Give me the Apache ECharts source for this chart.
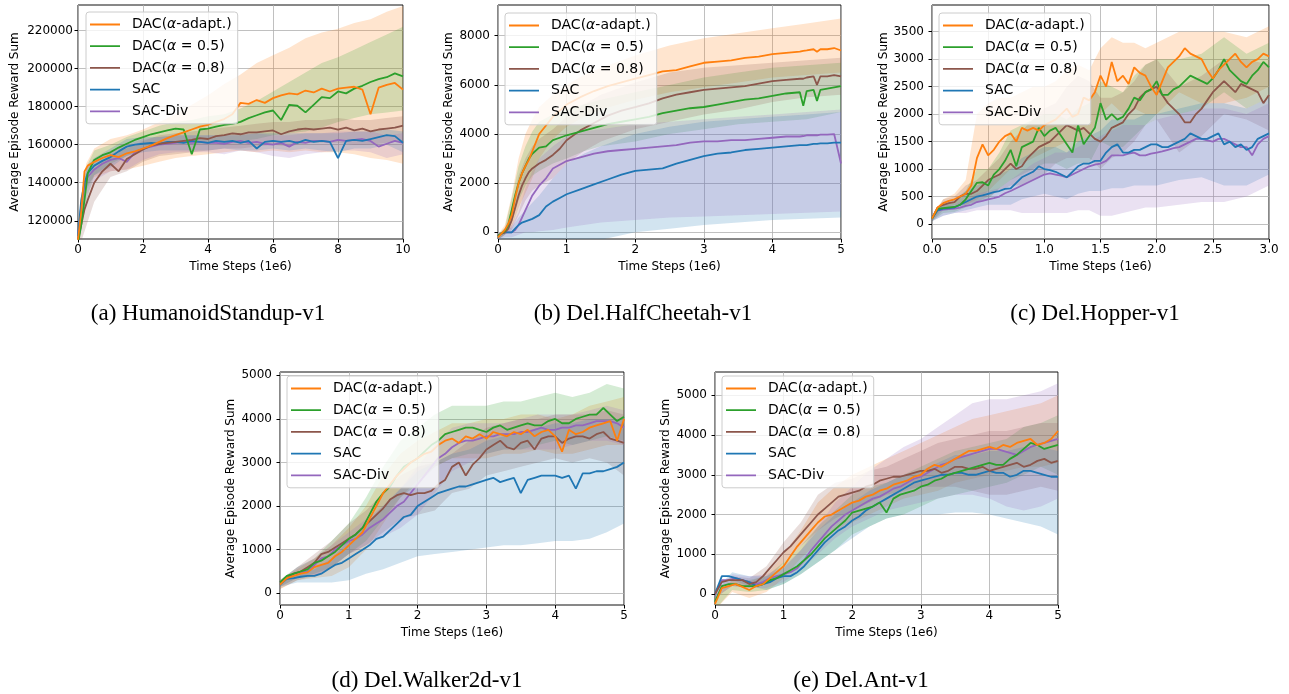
<!DOCTYPE html>
<html><head><meta charset="utf-8">
<script src="https://cdn.jsdelivr.net/npm/echarts@6/dist/echarts.min.js"></script>
<style>html,body{margin:0;padding:0;background:#fff;}#c{width:1289px;height:694px;}</style>
</head><body><div id="c"></div>
<script>
// ---------- names / colours ----------
const NAMES = ['DAC(α-adapt.)', 'DAC(α = 0.5)', 'DAC(α = 0.8)', 'SAC', 'SAC-Div'];
const COLORS = ['#ff7f0e', '#2ca02c', '#8c564b', '#1f77b4', '#9467bd'];
const CAPTIONS = ['(a) HumanoidStandup-v1', '(b) Del.HalfCheetah-v1', '(c) Del.Hopper-v1', '(d) Del.Walker2d-v1', '(e) Del.Ant-v1'];

// ---------- (a) HumanoidStandup ----------
const A_X = [0,0.1,0.2,0.3,0.5,0.75,1,1.25,1.5,1.75,2,2.25,2.5,2.75,3,3.25,3.5,3.75,4,4.25,4.5,4.75,5,5.25,5.5,5.75,6,6.25,6.5,6.75,7,7.25,7.5,7.75,8,8.25,8.5,8.75,9,9.25,9.5,9.75,10];
const A_ADAPT = [110000,125000,146000,149000,151000,153000,154500,153500,155500,156500,158000,159500,161500,163500,165000,166500,168000,169500,170500,172000,173500,176000,182000,181500,183500,182000,184500,186000,187000,186500,188500,187500,189500,188000,189500,190000,190500,189000,176000,190000,191500,192500,189000];
const A_A05 = [108000,118000,131000,145000,152000,154500,156000,158500,160500,162500,164000,165500,166500,167500,168500,168000,155000,168000,168500,169500,170500,171000,172000,174000,175500,177000,178000,173000,181000,180500,177000,181000,185000,184500,188000,187000,189500,191000,193000,194500,195500,197500,196000];
const A_A08 = [110000,118000,126000,131000,140000,146000,150000,146000,152500,155000,157500,159500,160500,161000,161500,162000,162500,163500,163000,164500,165000,166000,165500,166500,166500,167000,167500,165500,167000,168000,168500,168000,168500,169000,168000,169000,167500,168500,167000,168000,168500,169000,170000];
const A_SAC = [112000,131000,140000,145000,149000,151500,153500,156500,159000,160000,160500,161000,160500,161500,161500,161000,162000,161500,161000,162000,161500,162000,161000,162000,158000,161500,162000,161500,162000,161000,162500,161500,162000,161500,153000,162000,162500,162000,163000,164000,165000,164500,161000];
const A_DIV = [112000,128000,138000,143000,147000,150000,152000,153000,151000,156000,158000,159000,160000,160500,161000,161500,161000,161500,161000,161000,160500,161500,162000,161000,161500,160500,160000,161000,159000,161500,161000,162000,162000,161500,162500,162000,162500,163000,162000,159000,160500,162000,161000];
const AB_X = [0,0.25,0.5,1,1.5,2,2.5,3,3.5,4,4.5,5,5.5,6,6.5,7,7.5,8,8.5,9,9.5,10];
const A_ADAPT_HI = [112000,150000,158000,163000,165000,168000,172000,176000,181000,186000,192000,197000,203000,207000,211000,216000,219000,221000,224000,226000,230000,233000];
const A_ADAPT_LO = [106000,138000,143000,146000,147000,149000,151000,153000,154000,155000,156000,157000,156000,157000,156000,157000,156000,156000,155000,153000,152000,150000];
const A_A05_HI = [112000,148000,157000,160000,164000,167000,170000,172000,173000,175000,176000,179000,183000,188000,193000,198000,203000,206000,210000,214000,218000,222000];
const A_A05_LO = [104000,130000,144000,150000,154000,158000,160000,161000,160000,161000,161000,162000,163000,165000,166000,167000,169000,172000,174000,176000,177000,178000];
const A_A08_HI = [113000,140000,147000,155000,158000,162000,165000,166000,167000,168000,169000,170000,171000,172000,172000,173000,173000,174000,173000,173000,174000,175000];
const A_A08_LO = [104000,117000,130000,143000,146000,151000,154000,155000,156000,157000,158000,158000,159000,160000,159000,161000,161000,161000,160000,160000,161000,162000];
const A_SAC_HI = [115000,148000,153000,158000,163000,164000,164000,165000,165000,165000,165000,165000,166000,166000,166000,166000,166000,166000,167000,167000,168000,167000];
const A_SAC_LO = [108000,136000,144000,148000,154000,156000,157000,157000,157000,157000,158000,157000,157000,158000,157000,158000,157000,156000,158000,158000,160000,156000];
const A_DIV_HI = [114000,147000,152000,157000,160000,163000,164000,165000,165000,165000,165000,166000,166000,165000,165000,166000,166000,167000,167000,167000,165000,166000];
const A_DIV_LO = [108000,133000,141000,146000,147000,152000,155000,156000,156000,156000,155000,157000,156000,154000,153000,155000,156000,157000,157000,156000,153000,155000];
const A_XTICKS = [0,2,4,6,8,10];
const A_YTICKS = [120000,140000,160000,180000,200000,220000];

// ---------- (b) HalfCheetah ----------
const B_X = [0,0.05,0.1,0.15,0.2,0.25,0.3,0.35,0.4,0.45,0.5,0.6,0.7,0.8,0.9,1,1.2,1.4,1.6,1.8,2,2.2,2.4,2.6,2.8,3,3.2,3.4,3.6,3.8,4,4.2,4.4,4.45,4.5,4.6,4.65,4.7,4.8,4.9,5];
const B_ADAPT = [-200,-50,100,350,700,1400,2000,2400,2700,2950,3300,4000,4350,4700,4950,5200,5500,5750,5950,6100,6250,6400,6550,6600,6750,6900,6950,7000,7100,7150,7250,7300,7350,7380,7400,7450,7350,7450,7450,7500,7400];
const B_A05 = [-150,-50,50,300,900,1500,2000,2400,2700,3000,3200,3450,3500,3750,3850,3950,4100,4250,4400,4500,4600,4700,4850,4950,5050,5100,5200,5300,5400,5450,5550,5650,5700,5150,5750,5800,5350,5800,5850,5900,5950];
const B_A08 = [-150,-50,0,150,500,1000,1500,1900,2200,2450,2600,2800,2950,3150,3400,3750,4150,4450,4750,4950,5100,5250,5450,5600,5700,5800,5850,5900,5950,6050,6150,6200,6250,6250,6300,6350,6000,6350,6350,6400,6350];
const B_SAC = [-150,-50,0,0,0,150,300,400,450,500,550,700,1050,1250,1400,1550,1750,1950,2150,2350,2500,2550,2600,2800,2950,3100,3200,3250,3350,3400,3450,3500,3550,3550,3550,3600,3600,3620,3620,3650,3650];
const B_DIV = [-150,-50,0,0,0,100,300,600,900,1200,1500,1900,2200,2600,2750,2900,3050,3200,3300,3350,3400,3450,3500,3550,3650,3700,3700,3750,3750,3800,3850,3900,3900,3920,3950,3950,3950,3980,3980,4000,2800];
const BB_X = [0,0.1,0.2,0.3,0.4,0.5,0.6,0.8,1,1.25,1.5,2,2.5,3,3.5,4,4.5,5];
const B_ADAPT_HI = [-100,300,1500,3000,4000,4600,5100,5600,6000,6400,6700,7200,7600,7900,8100,8300,8500,8700];
const B_ADAPT_LO = [-300,-100,200,1000,1600,2200,3000,3800,4300,4700,5000,5400,5700,5900,6100,6300,6400,6500];
const B_A05_HI = [-100,200,1400,2700,3500,4100,4500,4800,5000,5200,5400,5700,6000,6300,6500,6700,6800,6900];
const B_A05_LO = [-300,-100,400,1300,1900,2300,2500,2800,3000,3300,3500,3700,4000,4200,4400,4500,4600,4900];
const B_A08_HI = [-100,100,1000,2300,3000,3500,3800,4200,4700,5200,5600,6100,6500,6700,6800,6900,7000,7100];
const B_A08_LO = [-300,-100,100,700,1300,1700,1900,2200,2800,3300,3700,4200,4500,4800,5000,5300,5500,5600];
const B_SAC_HI = [-100,100,200,600,900,1200,1500,2200,2800,3200,3500,4000,4300,4500,4600,4700,4800,4900];
const B_SAC_LO = [-300,-300,-400,-600,-800,-900,-1000,-900,-800,-600,-300,0,150,300,400,500,550,600];
const B_DIV_HI = [-100,100,300,800,1800,2500,3000,3500,3900,4100,4200,4400,4500,4600,4700,4800,4900,5000];
const B_DIV_LO = [-300,-200,-200,-100,0,0,50,100,200,300,400,500,600,650,700,750,800,850];
const B_XTICKS = [0,1,2,3,4,5];
const B_YTICKS = [0,2000,4000,6000,8000];

// ---------- (c) Hopper ----------
const C_X = [0,0.05,0.1,0.15,0.2,0.25,0.3,0.35,0.4,0.45,0.5,0.55,0.6,0.65,0.7,0.75,0.8,0.85,0.9,0.95,1,1.05,1.1,1.15,1.2,1.25,1.3,1.35,1.4,1.45,1.5,1.55,1.6,1.65,1.7,1.75,1.8,1.85,1.9,1.95,2,2.05,2.1,2.15,2.2,2.25,2.3,2.35,2.4,2.45,2.5,2.55,2.6,2.65,2.7,2.75,2.8,2.85,2.9,2.95,3];
const C_ADAPT = [100,300,380,420,450,500,550,700,1200,1450,1250,1350,1500,1600,1650,1500,1750,1700,1750,1700,1800,1850,1900,2000,2100,1950,2000,2300,2250,2400,2700,2500,2950,2600,2700,2550,2850,2750,2700,2500,2350,2600,2850,2950,3050,3200,3100,3050,3000,2800,2650,2800,2900,3000,3100,2950,2850,2950,3000,3100,3050];
const C_A05 = [100,280,290,300,310,350,450,600,750,760,700,900,1000,1150,1350,1050,1400,1450,1500,1750,1600,1700,1750,1600,1450,1300,1800,1450,1600,1750,2200,1900,2000,1900,1950,2100,2300,2250,2400,2450,2600,2350,2350,2450,2500,2600,2700,2650,2600,2550,2650,2800,3000,2800,2700,2600,2550,2700,2800,2950,2850];
const C_A08 = [100,300,350,380,400,500,550,550,600,700,800,850,900,1000,1100,1000,1050,1200,1300,1400,1450,1500,1600,1700,1800,1750,1700,1750,1650,1550,1500,1600,1750,1800,1850,2000,2100,2300,2400,2450,2500,2350,2200,2100,2000,1850,1850,2000,2100,2250,2400,2500,2600,2500,2400,2550,2500,2450,2400,2200,2350];
const C_SAC = [100,250,280,290,300,350,400,450,500,520,550,580,600,640,650,750,850,900,950,1050,1000,980,950,900,850,950,1050,1100,1100,1150,1150,1300,1400,1450,1300,1300,1350,1350,1400,1450,1450,1400,1400,1450,1500,1550,1650,1600,1550,1550,1600,1650,1450,1500,1400,1450,1350,1400,1550,1600,1650];
const C_DIV = [100,250,260,270,280,300,330,350,400,420,450,470,500,560,600,650,700,750,800,850,900,920,900,880,850,900,950,1000,1050,1080,1100,1150,1250,1250,1250,1280,1300,1250,1250,1280,1300,1320,1350,1380,1400,1450,1500,1550,1550,1520,1500,1550,1550,1500,1450,1400,1400,1250,1450,1550,1600];
const CB_X = [0,0.1,0.2,0.3,0.4,0.5,0.6,0.7,0.8,0.9,1,1.1,1.2,1.3,1.4,1.5,1.6,1.7,1.8,1.9,2,2.2,2.4,2.6,2.8,3];
const C_ADAPT_HI = [150,450,550,800,2000,2200,2300,2300,2400,2500,2500,2600,2800,2900,2800,3200,3400,3300,3300,3200,3300,3500,3500,3500,3400,3600];
const C_ADAPT_LO = [50,300,350,350,450,600,800,1000,1100,1200,1300,1400,1500,1500,1600,2000,2200,2000,2100,2000,2000,2400,2200,2200,2300,2500];
const C_A05_HI = [150,350,400,600,1000,1000,1300,1700,1800,1900,2000,2000,1900,2100,2200,2600,2500,2400,2700,2900,3000,3000,3100,3400,3100,3300];
const C_A05_LO = [50,200,220,300,400,450,650,800,900,1000,1100,1100,1000,1100,1100,1500,1400,1400,1600,1800,2000,2000,2100,2400,2100,2300];
const C_A08_HI = [150,450,500,700,800,1000,1200,1500,1700,1900,2100,2200,2500,2700,2600,2300,2300,2400,2600,2900,3000,2500,2700,3000,3000,2900];
const C_A08_LO = [50,250,300,350,400,500,600,700,700,800,900,1100,1200,1200,1200,1000,1200,1300,1500,1800,1900,1300,1600,2000,1900,1700];
const C_SAC_HI = [150,400,450,600,700,800,900,1000,1200,1300,1400,1400,1300,1500,1600,1700,1900,1900,1900,2000,2000,2100,2200,2200,2100,2300];
const C_SAC_LO = [50,150,200,250,300,350,350,350,450,500,550,500,450,550,600,600,650,650,700,700,700,800,850,700,700,900];
const C_DIV_HI = [150,350,350,450,550,600,650,800,950,1100,1200,1300,1300,1400,1500,1600,1700,1800,1800,1800,1900,2000,2100,2100,2000,2200];
const C_DIV_LO = [50,150,200,200,250,250,250,250,200,200,200,200,200,250,250,150,150,200,250,300,300,350,400,400,500,700];
const C_XTICKS = [0,0.5,1,1.5,2,2.5,3];
const C_YTICKS = [0,500,1000,1500,2000,2500,3000,3500];

// ---------- (d) Walker2d ----------
const D_X = [0,0.1,0.2,0.3,0.4,0.5,0.6,0.7,0.8,0.9,1,1.1,1.2,1.3,1.4,1.5,1.6,1.7,1.8,1.9,2,2.1,2.2,2.3,2.4,2.5,2.6,2.7,2.8,2.9,3,3.1,3.2,3.3,3.4,3.5,3.6,3.7,3.8,3.9,4,4.1,4.2,4.3,4.4,4.5,4.6,4.7,4.8,4.9,5];
const D_ADAPT = [200,350,400,450,480,600,650,700,850,950,1100,1250,1400,1700,2000,2300,2500,2700,2850,3000,3100,3200,3250,3400,3500,3550,3450,3600,3550,3650,3550,3700,3650,3600,3700,3650,3750,3600,3700,3750,3600,3250,3750,3650,3700,3800,3850,3900,3950,3500,4000];
const D_A05 = [250,400,450,500,550,700,750,850,950,1100,1250,1350,1500,1800,2100,2300,2450,2700,2900,3000,3100,3250,3400,3500,3650,3700,3750,3800,3800,3750,3700,3800,3850,3750,3800,3850,3900,3850,3850,3950,4000,3900,3900,4000,4050,4100,4100,4250,4100,3950,4050];
const D_A08 = [250,350,450,500,600,700,900,950,1050,1150,1250,1350,1500,1650,1800,1950,2150,2250,2300,2250,2300,2300,2350,2500,2600,2900,3000,2700,2950,3100,3300,3400,3500,3350,3300,3450,3500,3300,3550,3600,3600,3450,3550,3600,3600,3550,3650,3700,3550,3500,3450];
const D_SAC = [200,330,350,380,400,400,450,550,650,700,800,900,1000,1100,1250,1300,1450,1600,1750,1800,2000,2100,2200,2300,2350,2400,2450,2450,2500,2550,2600,2650,2550,2600,2650,2300,2600,2650,2700,2700,2700,2650,2700,2400,2750,2750,2800,2800,2850,2900,3000];
const D_DIV = [250,350,450,480,500,650,800,850,1000,1100,1200,1250,1350,1500,1600,1700,1850,2000,2100,2300,2500,2700,2900,3100,3200,3350,3450,3500,3500,3550,3600,3600,3650,3650,3650,3700,3700,3750,3800,3750,3750,3800,3800,3850,3850,3900,3950,3950,3950,3900,3800];
const DB_X = [0,0.25,0.5,0.75,1,1.25,1.5,1.75,2,2.25,2.5,2.75,3,3.25,3.5,3.75,4,4.25,4.5,4.75,5];
const D_ADAPT_HI = [300,550,800,1100,1500,2000,2700,3200,3500,3700,3900,3900,4000,4000,4100,4100,4000,4100,4300,4400,4500];
const D_ADAPT_LO = [100,300,350,400,600,1000,1600,2200,2600,2900,3100,3100,3100,3200,3200,3300,3200,3200,3300,3400,3400];
const D_A05_HI = [300,600,800,1200,1600,2200,2900,3500,3800,4100,4300,4300,4300,4400,4400,4500,4600,4500,4600,4800,4700];
const D_A05_LO = [150,350,450,600,900,1200,1700,2200,2500,2900,3100,3200,3200,3300,3300,3400,3500,3400,3500,3600,3500];
const D_A08_HI = [300,600,900,1200,1600,1900,2300,2700,2900,3000,3200,3500,3800,3900,4000,4000,4100,4100,4100,4200,4100];
const D_A08_LO = [100,300,400,600,900,1100,1400,1700,1800,1900,2300,2400,2700,2800,2900,3000,3100,3000,3100,3000,2700];
const D_SAC_HI = [250,450,550,800,1200,1600,2000,2400,2800,3000,3200,3300,3500,3600,3700,3800,3900,3900,4000,4000,4000];
const D_SAC_LO = [150,250,250,250,300,450,550,700,850,900,950,1000,1050,1100,1100,1150,1200,1200,1250,1400,1600];
const D_DIV_HI = [300,600,800,1100,1400,1700,2000,2400,2900,3400,3800,3900,3900,3900,4000,4100,4100,4100,4200,4300,4200];
const D_DIV_LO = [150,350,400,600,900,1100,1300,1500,1800,2300,2800,3000,3200,3300,3300,3300,3300,3400,3500,3500,3400];
const D_XTICKS = [0,1,2,3,4,5];
const D_YTICKS = [0,1000,2000,3000,4000,5000];

// ---------- (e) Ant ----------
const E_X = [0,0.1,0.2,0.3,0.4,0.5,0.6,0.7,0.8,0.9,1,1.1,1.2,1.3,1.4,1.5,1.6,1.7,1.8,1.9,2,2.1,2.2,2.3,2.4,2.5,2.6,2.7,2.8,2.9,3,3.1,3.2,3.3,3.4,3.5,3.6,3.7,3.8,3.9,4,4.1,4.2,4.3,4.4,4.5,4.6,4.7,4.8,4.9,5];
const E_ADAPT = [-250,150,200,250,180,100,200,250,400,550,700,950,1200,1400,1600,1800,1950,2000,2100,2200,2300,2350,2450,2500,2600,2650,2750,2800,2850,2950,3000,3150,3250,3200,3300,3400,3500,3600,3600,3650,3700,3650,3750,3700,3800,3850,3900,3750,3800,3900,4100];
const E_A05 = [-200,200,250,250,200,200,200,250,350,400,500,600,700,850,1000,1200,1400,1550,1700,1850,2050,2100,2150,2200,2300,2050,2400,2500,2550,2600,2700,2750,2850,2900,3000,3050,3100,3150,3200,3250,3300,3250,3250,3400,3500,3650,3800,3750,3650,3700,3750];
const E_A08 = [0,300,350,350,350,250,300,450,650,850,1050,1200,1400,1600,1800,2000,2150,2300,2450,2500,2550,2600,2700,2750,2850,2900,2950,2950,3000,3050,3100,3100,3150,3050,3100,3200,3200,3150,3150,3200,3100,3150,3200,3250,3300,3200,3250,3350,3400,3300,3350];
const E_SAC = [0,450,450,400,350,300,200,250,300,400,450,450,550,700,900,1100,1300,1450,1600,1700,1850,1950,2100,2200,2300,2400,2500,2600,2700,2800,2850,2900,2950,3000,3000,3050,3050,3000,3000,3050,3100,3050,3050,2950,3000,3100,3100,3050,3000,2950,2950];
const E_DIV = [0,350,350,400,350,300,250,300,400,450,500,550,650,850,1100,1300,1500,1700,1850,2000,2100,2200,2300,2400,2450,2550,2650,2700,2800,2900,2950,3050,3150,3250,3300,3400,3450,3500,3550,3600,3650,3650,3600,3550,3500,3600,3700,3750,3800,3850,3900];
const EB_X = [0,0.25,0.5,0.75,1,1.25,1.5,1.75,2,2.25,2.5,2.75,3,3.25,3.5,3.75,4,4.25,4.5,4.75,5];
const E_ADAPT_HI = [-100,350,300,500,1000,1600,2300,2700,3000,3200,3400,3600,3800,4000,4200,4400,4500,4600,4700,4800,5000];
const E_ADAPT_LO = [-400,50,-100,50,400,900,1300,1600,1800,2000,2200,2400,2500,2600,2800,2900,3000,3100,3200,3200,3300];
const E_A05_HI = [-100,350,350,450,800,1200,1700,2100,2500,2700,2800,3000,3200,3400,3600,3700,3800,3900,4200,4300,4500];
const E_A05_LO = [-400,100,50,100,250,500,800,1100,1500,1700,1900,2000,2200,2400,2500,2600,2700,2800,3000,3200,3000];
const E_A08_HI = [100,450,400,700,1300,1800,2500,2800,2900,3100,3200,3400,3600,3800,3900,4000,4100,4100,4200,4300,4300];
const E_A08_LO = [-100,200,150,300,800,1200,1600,1900,2100,2300,2500,2600,2700,2700,2700,2600,2500,2500,2600,2700,2600];
const E_SAC_HI = [100,550,450,450,650,1100,1600,2000,2300,2600,2800,3000,3100,3300,3500,3500,3600,3600,3700,3700,3600];
const E_SAC_LO = [-100,350,200,100,250,500,800,1100,1400,1700,1900,2000,2000,2000,2050,2050,2000,1900,1800,1700,1500];
const E_DIV_HI = [100,500,450,500,700,1100,1700,2300,2700,3100,3400,3700,3900,4200,4500,4800,4900,4900,5000,5100,5300];
const E_DIV_LO = [-100,200,150,150,300,600,1000,1400,1700,1900,2100,2200,2300,2400,2500,2500,2400,2200,2100,2200,2400];
const E_XTICKS = [0,1,2,3,4,5];
const E_YTICKS = [0,1000,2000,3000,4000,5000];

// ---------- panels (data) ----------
const PANELS = [
  {x:A_X, ys:[A_ADAPT,A_A05,A_A08,A_SAC,A_DIV], bx:AB_X,
   bands:[[A_ADAPT_LO,A_ADAPT_HI],[A_A05_LO,A_A05_HI],[A_A08_LO,A_A08_HI],[A_SAC_LO,A_SAC_HI],[A_DIV_LO,A_DIV_HI]],
   xTicks:A_XTICKS, yTicks:A_YTICKS, yMin:110400, yMax:233500, xFmt:0},
  {x:B_X, ys:[B_ADAPT,B_A05,B_A08,B_SAC,B_DIV], bx:BB_X,
   bands:[[B_ADAPT_LO,B_ADAPT_HI],[B_A05_LO,B_A05_HI],[B_A08_LO,B_A08_HI],[B_SAC_LO,B_SAC_HI],[B_DIV_LO,B_DIV_HI]],
   xTicks:B_XTICKS, yTicks:B_YTICKS, yMin:-270, yMax:9250, xFmt:0},
  {x:C_X, ys:[C_ADAPT,C_A05,C_A08,C_SAC,C_DIV], bx:CB_X,
   bands:[[C_ADAPT_LO,C_ADAPT_HI],[C_A05_LO,C_A05_HI],[C_A08_LO,C_A08_HI],[C_SAC_LO,C_SAC_HI],[C_DIV_LO,C_DIV_HI]],
   xTicks:C_XTICKS, yTicks:C_YTICKS, yMin:-273, yMax:3986, xFmt:1},
  {x:D_X, ys:[D_ADAPT,D_A05,D_A08,D_SAC,D_DIV], bx:DB_X,
   bands:[[D_ADAPT_LO,D_ADAPT_HI],[D_A05_LO,D_A05_HI],[D_A08_LO,D_A08_HI],[D_SAC_LO,D_SAC_HI],[D_DIV_LO,D_DIV_HI]],
   xTicks:D_XTICKS, yTicks:D_YTICKS, yMin:-268, yMax:5076, xFmt:0},
  {x:E_X, ys:[E_ADAPT,E_A05,E_A08,E_SAC,E_DIV], bx:EB_X,
   bands:[[E_ADAPT_LO,E_ADAPT_HI],[E_A05_LO,E_A05_HI],[E_A08_LO,E_A08_HI],[E_SAC_LO,E_SAC_HI],[E_DIV_LO,E_DIV_HI]],
   xTicks:E_XTICKS, yTicks:E_YTICKS, yMin:-276, yMax:5585, xFmt:0}
];

// ---------- layout (pixels) ----------
const LAYOUT = [
  {left:78, top:5, width:325, height:234, yGap:57, yMargin:5, lgLeft:86, lgTop:12, capX:208, capY:314},
  {left:498, top:5, width:343, height:234, yGap:43, yMargin:8, lgLeft:505, lgTop:13, capX:643, capY:314},
  {left:932, top:5, width:337, height:234, yGap:42, yMargin:8, lgLeft:939, lgTop:13, capX:1095, capY:314},
  {left:280, top:372, width:344, height:233, yGap:43, yMargin:8, lgLeft:287, lgTop:376, capX:427, capY:681},
  {left:715, top:372, width:343, height:233, yGap:43, yMargin:8, lgLeft:722, lgTop:376, capX:861, capY:681}
];

// legend sample: a 30x2 bar in a 30x14 box (tiny corner dots fix the box size)
const LEGEND_ICON = 'path://M0,0h0.01v0.01h-0.01zM0,6.1h30v1.8h-30zM29.99,13.99h0.01v0.01h-0.01z';
const FONT = 'DejaVu Sans';
const grids = [], xAxes = [], yAxes = [], legends = [], series = [], graphics = [];

PANELS.forEach((p, i) => {
  const L = LAYOUT[i];
  grids.push({left:L.left, top:L.top, width:L.width, height:L.height, show:true,
    borderColor:'#111', borderWidth:1, backgroundColor:'transparent'});
  const xInt = p.xTicks[1] - p.xTicks[0];
  const yInt = p.yTicks[1] - p.yTicks[0];
  xAxes.push({type:'value', gridIndex:i, min:p.xTicks[0], max:p.xTicks[p.xTicks.length-1], interval:xInt,
    name:'Time Steps (1e6)', nameLocation:'middle', nameGap:22,
    nameTextStyle:{fontFamily:FONT, fontSize:12, color:'#000'},
    axisLine:{show:false, onZero:false},
    axisTick:{show:true, length:3.5, lineStyle:{color:'#000', width:1}},
    axisLabel:{margin:5, fontFamily:FONT, fontSize:12, color:'#000',
      formatter: v => p.xFmt ? Number(v).toFixed(p.xFmt) : String(v)},
    splitLine:{show:true, lineStyle:{color:'#b0b0b0', width:0.8}}
  });
  yAxes.push({type:'value', gridIndex:i, min:p.yMin, max:p.yMax, minInterval:yInt, maxInterval:yInt,
    name:'Average Episode Reward Sum', nameLocation:'middle', nameGap:L.yGap,
    nameTextStyle:{fontFamily:FONT, fontSize:12, color:'#000'},
    axisLine:{show:false, onZero:false},
    axisTick:{show:true, length:3.5, lineStyle:{color:'#000', width:1}, customValues:p.yTicks},
    axisLabel:{margin:L.yMargin, fontFamily:FONT, fontSize:12, color:'#000', showMinLabel:false, showMaxLabel:false,
      formatter: v => String(v)},
    splitLine:{show:true, lineStyle:{color:'#b0b0b0', width:0.8}}
  });
  legends.push({orient:'vertical', left:L.lgLeft, top:L.lgTop, itemWidth:30, itemHeight:14, itemGap:7.7,
    padding:[5.5,6,5.5,4], backgroundColor:'rgba(255,255,255,0.8)', borderColor:'#cccccc', borderWidth:1, borderRadius:3,
    data:NAMES, selectedMode:false, icon:LEGEND_ICON,
    formatter: n => n.replace('α', '{i|α}'),
    textStyle:{fontFamily:FONT, fontSize:14, color:'#000', padding:[0,0,0,7],
      rich:{i:{fontFamily:FONT, fontSize:14, fontStyle:'italic', color:'#000'}}}
  });
  // shaded bands
  p.bands.forEach((b, k) => {
    const rows = p.bx.map((x, j) => [x, b[0][j], b[1][j]]);
    const col = COLORS[k];
    series.push({type:'custom', xAxisIndex:i, yAxisIndex:i, data:rows, encode:{x:0, y:[1,2]},
      silent:true, animation:false, z:1,
      renderItem:(params, api) => {
        if (params.dataIndex !== 0) return null;
        const up = rows.map(r => api.coord([r[0], r[2]]));
        const lo = rows.map(r => api.coord([r[0], r[1]])).reverse();
        const cs = params.coordSys;
        return {type:'polygon', shape:{points:up.concat(lo)},
          style:{fill:col, opacity:0.2},
          clipPath:{type:'rect', shape:{x:cs.x, y:cs.y, width:cs.width, height:cs.height}}};
      }});
  });
  // mean lines, drawn with DAC(alpha-adapt.) on top
  [4,3,2,1,0].forEach(k => {
    series.push({type:'line', name:NAMES[k], xAxisIndex:i, yAxisIndex:i,
      data:p.x.map((x, j) => [x, p.ys[k][j]]),
      symbol:'none', showSymbol:false, clip:true, animation:false, z:3,
      lineStyle:{color:COLORS[k], width:1.8}, itemStyle:{color:COLORS[k]}});
  });
  graphics.push({type:'text', x:L.capX, y:L.capY,
    style:{text:CAPTIONS[i], fontFamily:'Liberation Serif', fontSize:23, fill:'#000', align:'center', verticalAlign:'middle'}});
});

const chart = echarts.init(document.getElementById('c'), null, {renderer:'canvas'});
chart.setOption({animation:false, grid:grids, xAxis:xAxes, yAxis:yAxes, legend:legends, series:series, graphic:graphics});
</script></body></html>
